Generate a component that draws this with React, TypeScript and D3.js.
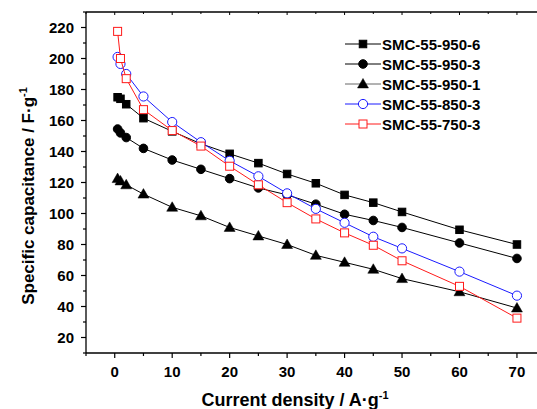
import React from "react";
import * as d3 from "d3";

// current density (A/g)
const currentDensity = [0.5, 1, 2, 5, 10, 15, 20, 25, 30, 35, 40, 45, 50, 60, 70];

const smc950_6 = [175, 174, 170.5, 161.5, 153, 145, 138.5, 132.5, 125.5, 119.5, 112, 107, 101, 89.5, 80];
const smc950_3 = [154.5, 152, 149, 142, 134.5, 128.5, 122.5, 116.5, 112, 106, 99.5, 95.5, 91, 81, 71];
const smc950_1 = [122.5, 121, 118.5, 112.5, 104, 98.5, 91, 85.5, 80, 73, 68.5, 64, 58, 49.5, 39];
const smc850_3 = [201, 196.5, 190, 175.5, 159, 146, 134, 124, 113, 103, 94, 85, 77.5, 62.5, 47];
const smc750_3 = [217.5, 200, 187, 167, 153.5, 143.5, 130.5, 118.5, 107, 96.5, 87.5, 79.5, 69.5, 53, 32.5];

const seriesNames = ["SMC-55-950-6", "SMC-55-950-3", "SMC-55-950-1", "SMC-55-850-3", "SMC-55-750-3"];
const seriesValues = [smc950_6, smc950_3, smc950_1, smc850_3, smc750_3];

const xTicks = [0, 10, 20, 30, 40, 50, 60, 70];
const yTicks = [20, 40, 60, 80, 100, 120, 140, 160, 180, 200, 220];

const styles = [
  { color: "#000", legendColor: "#000", marker: "square", filled: true },
  { color: "#000", legendColor: "#000", marker: "circle", filled: true },
  { color: "#000", legendColor: "#666", marker: "triangle", filled: true },
  { color: "#1a1aff", legendColor: "#1a1aff", marker: "circle", filled: false },
  { color: "#ff1a1a", legendColor: "#ff1a1a", marker: "square", filled: false },
];

const W = 537;
const H = 409;
const left = 86;
const top = 12;
const bottom = 353;

const x = d3.scaleLinear().domain([-5, 75]).range([left, left + 80 * 5.746]);
const y = d3.scaleLinear().domain([10, 230]).range([bottom, top]);

const font = "Arial, 'Liberation Sans', sans-serif";

function Marker({ kind, filled, color, cx, cy }: any) {
  const fill = filled ? color : "#fff";
  if (kind === "square") {
    const s = filled ? 7.5 : 8;
    return <rect x={cx - s / 2} y={cy - s / 2} width={s} height={s} fill={fill} stroke={color} strokeWidth={1} />;
  }
  if (kind === "circle") {
    return <circle cx={cx} cy={cy} r={filled ? 4.3 : 4.6} fill={fill} stroke={color} strokeWidth={1} />;
  }
  const sym = d3.symbol().type(d3.symbolTriangle).size(52)();
  return <path d={sym as string} transform={`translate(${cx},${cy + 0.8})`} fill={fill} stroke={color} strokeWidth={0.5} />;
}

export default function App() {
  const line = d3
    .line<number>()
    .x((_, i) => x(currentDensity[i]))
    .y((d) => y(d));

  const xMinor = d3.range(-5, 76, 5);
  const yMinor = d3.range(10, 231, 10);
  const right = W + 20;

  return (
    <svg width={W} height={H} style={{ position: "absolute", left: 0, top: 0, background: "#fff" }} fontFamily={font}>
      {/* frame */}
      <line x1={left} x2={right} y1={top} y2={top} stroke="#000" strokeWidth={1.3} />
      <line x1={left} x2={right} y1={bottom} y2={bottom} stroke="#000" strokeWidth={1.3} />
      <line x1={left} x2={left} y1={top} y2={bottom} stroke="#000" strokeWidth={1.3} />

      {/* x ticks */}
      {xMinor.map((v) => {
        const major = v % 10 === 0;
        return (
          <g key={"x" + v}>
            <line x1={x(v)} x2={x(v)} y1={bottom} y2={bottom + (major ? 5 : 3)} stroke="#000" strokeWidth={1.2} />
            <line x1={x(v)} x2={x(v)} y1={top} y2={top + (major ? 3 : 2)} stroke="#000" strokeWidth={1} />
          </g>
        );
      })}
      {xTicks.map((v) => (
        <text key={"xl" + v} x={x(v)} y={377} textAnchor="middle" fontSize={15} fontWeight="bold">
          {v}
        </text>
      ))}

      {/* y ticks */}
      {yMinor.map((v) => (
        <line key={"y" + v} x1={left - (v % 20 === 0 ? 5 : 3)} x2={left} y1={y(v)} y2={y(v)} stroke="#000" strokeWidth={1.2} />
      ))}
      {yTicks.map((v) => (
        <text key={"yl" + v} x={74} y={y(v) + 5} textAnchor="end" fontSize={15} fontWeight="bold">
          {v}
        </text>
      ))}

      {/* axis titles */}
      <text x={295} y={406} textAnchor="middle" fontSize={18} fontWeight="bold">
        Current density / A·g<tspan dy={-7} fontSize={11}>-1</tspan>
      </text>
      <text transform={`translate(34,196) rotate(-90)`} textAnchor="middle" fontSize={17} fontWeight="bold">
        Specific capacitance / F·g<tspan dy={-7} fontSize={11}>-1</tspan>
      </text>

      {/* series */}
      {seriesValues.map((vals, si) => (
        <g key={"s" + si}>
          <path d={line(vals) as string} fill="none" stroke={styles[si].color} strokeWidth={1} />
          {vals.map((v, i) => (
            <Marker
              key={i}
              kind={styles[si].marker}
              filled={styles[si].filled}
              color={styles[si].color}
              cx={x(currentDensity[i])}
              cy={y(v)}
            />
          ))}
        </g>
      ))}

      {/* legend */}
      {seriesNames.map((name, i) => {
        const ly = 44 + i * 20;
        const st = styles[i];
        return (
          <g key={"lg" + i}>
            <line x1={345} x2={381} y1={ly} y2={ly} stroke={st.legendColor} strokeWidth={1} />
            <Marker kind={st.marker} filled={st.filled} color={st.color} cx={363} cy={ly} />
            <text x={382} y={ly + 5.5} fontSize={15} fontWeight="bold">
              {name}
            </text>
          </g>
        );
      })}
    </svg>
  );
}
